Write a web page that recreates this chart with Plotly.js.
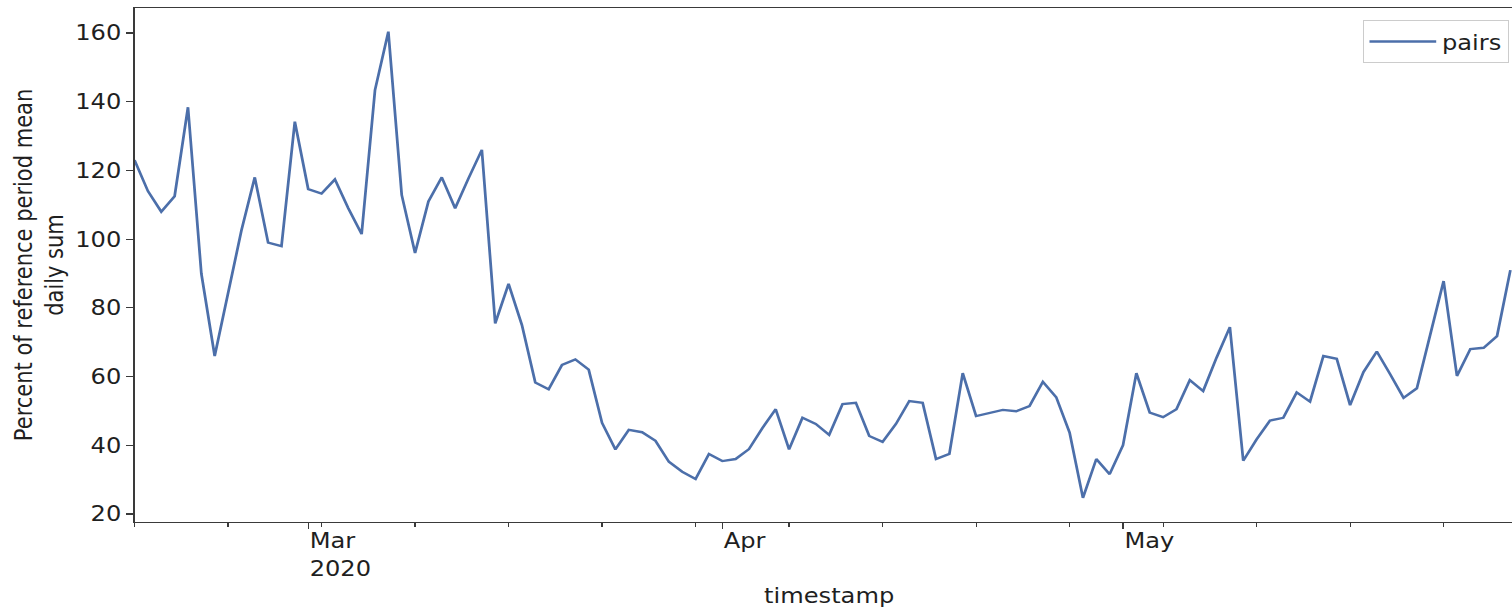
<!DOCTYPE html>
<html>
<head>
<meta charset="utf-8">
<script src="https://cdn.plot.ly/plotly-3.0.1.min.js"></script>
<style>
  html, body { margin: 0; padding: 0; background: #ffffff; overflow: hidden; }
  #wrap { width: 1512px; height: 608px; overflow: hidden; position: relative; }
  #chart { width: 1340px; height: 608px; transform: scaleX(1.15); transform-origin: 0 0; }
</style>
</head>
<body>
<div id="wrap"><div id="chart"></div></div>
<script>
// ---- data ----
const dates = [
  '2020-02-17','2020-02-18','2020-02-19','2020-02-20','2020-02-21','2020-02-22','2020-02-23',
  '2020-02-24','2020-02-25','2020-02-26','2020-02-27','2020-02-28','2020-02-29',
  '2020-03-01','2020-03-02','2020-03-03','2020-03-04','2020-03-05','2020-03-06','2020-03-07',
  '2020-03-08','2020-03-09','2020-03-10','2020-03-11','2020-03-12','2020-03-13','2020-03-14',
  '2020-03-15','2020-03-16','2020-03-17','2020-03-18','2020-03-19','2020-03-20','2020-03-21',
  '2020-03-22','2020-03-23','2020-03-24','2020-03-25','2020-03-26','2020-03-27','2020-03-28',
  '2020-03-29','2020-03-30','2020-03-31',
  '2020-04-01','2020-04-02','2020-04-03','2020-04-04','2020-04-05','2020-04-06','2020-04-07',
  '2020-04-08','2020-04-09','2020-04-10','2020-04-11','2020-04-12','2020-04-13','2020-04-14',
  '2020-04-15','2020-04-16','2020-04-17','2020-04-18','2020-04-19','2020-04-20','2020-04-21',
  '2020-04-22','2020-04-23','2020-04-24','2020-04-25','2020-04-26','2020-04-27','2020-04-28',
  '2020-04-29','2020-04-30',
  '2020-05-01','2020-05-02','2020-05-03','2020-05-04','2020-05-05','2020-05-06','2020-05-07',
  '2020-05-08','2020-05-09','2020-05-10','2020-05-11','2020-05-12','2020-05-13','2020-05-14',
  '2020-05-15','2020-05-16','2020-05-17','2020-05-18','2020-05-19','2020-05-20','2020-05-21',
  '2020-05-22','2020-05-23','2020-05-24','2020-05-25','2020-05-26','2020-05-27','2020-05-28',
  '2020-05-29','2020-05-30'
];
const pairs = [
  123, 114, 108, 112.5, 138.4, 90, 66,
  84, 102.5, 118, 99, 98, 134.2,
  114.6, 113.3, 117.4, 109, 101.5, 143.4, 160.4,
  112.9, 96, 111, 118, 109, 117.7, 126,
  75.5, 87, 75, 58.3, 56.3, 63.4, 65,
  62, 46.5, 38.8, 44.5, 43.8, 41.3, 35.2,
  32.3, 30.2, 37.5,
  35.4, 36, 38.9, 45, 50.5, 38.8, 48,
  46.2, 43, 52, 52.4, 42.7, 41, 46.2,
  52.9, 52.4, 36, 37.5, 61, 48.5, 49.3,
  50.3, 49.9, 51.4, 58.5, 54, 43.7, 24.7,
  36, 31.6,
  40, 61, 49.5, 48.2, 50.5, 59, 55.8,
  65.5, 74.4, 35.5, 41.7, 47.2, 48, 55.4,
  52.7, 66, 65.2, 51.7, 61.3, 67.3, 60.7,
  53.8, 56.6, 72, 87.8, 60.2, 68, 68.4,
  71.8, 91
];
const xTickVals = ['2020-03-01', '2020-04-01', '2020-05-01'];
const xTickText = ['Mar<br>2020', 'Apr', 'May'];
const yTickVals = [20, 40, 60, 80, 100, 120, 140, 160];
const xRange = ['2020-02-17', '2020-05-31'];
const yRange = [17.67, 167.3];

const FONT = 'DejaVu Sans, Verdana, sans-serif';
const TXT = '#1f1f1f';
const AX = '#3a3a3a';

const trace = {
  x: dates,
  y: pairs,
  type: 'scatter',
  mode: 'lines',
  name: 'pairs',
  line: { color: '#4C6FAA', width: 2.4 },
  showlegend: true
};

const layout = {
  width: 1340,
  height: 608,
  margin: { l: 117.4, r: 15.3, t: 8, b: 86 },
  paper_bgcolor: '#ffffff',
  plot_bgcolor: '#ffffff',
  font: { family: FONT, size: 21, color: TXT },
  showlegend: true,
  legend: {
    x: 0.884, y: 0.976, xanchor: 'left', yanchor: 'top',
    bgcolor: 'rgba(255,255,255,0.85)', bordercolor: '#cccccc', borderwidth: 1,
    font: { family: FONT, size: 21, color: TXT },
    itemwidth: 58
  },
  xaxis: {
    type: 'date',
    range: xRange,
    showgrid: false, zeroline: false,
    showline: true, linecolor: AX, linewidth: 1.3, mirror: true,
    ticks: 'outside', ticklen: 6, tickwidth: 1.2, tickcolor: AX,
    tickmode: 'array', tickvals: xTickVals, ticktext: xTickText,
    ticklabelposition: 'outside right',
    tickfont: { family: FONT, size: 21, color: TXT },
    minor: { ticks: 'outside', ticklen: 4, tickwidth: 1, tickcolor: AX,
             tick0: '2020-02-17', dtick: 7 * 86400000, showgrid: false },
    title: { text: 'timestamp', font: { family: FONT, size: 21, color: TXT }, standoff: 8 }
  },
  yaxis: {
    range: yRange,
    showgrid: false, zeroline: false,
    showline: true, linecolor: AX, linewidth: 1.3, mirror: true,
    ticks: 'outside', ticklen: 6, tickwidth: 1.2, tickcolor: AX,
    tickmode: 'array', tickvals: yTickVals,
    tickfont: { family: FONT, size: 21, color: TXT },
    title: { text: 'Percent of reference period mean<br>daily sum',
             font: { family: FONT, size: 21, color: TXT }, standoff: 4 }
  }
};

Plotly.newPlot('chart', [trace], layout, { staticPlot: true, displayModeBar: false });
</script>
</body>
</html>
